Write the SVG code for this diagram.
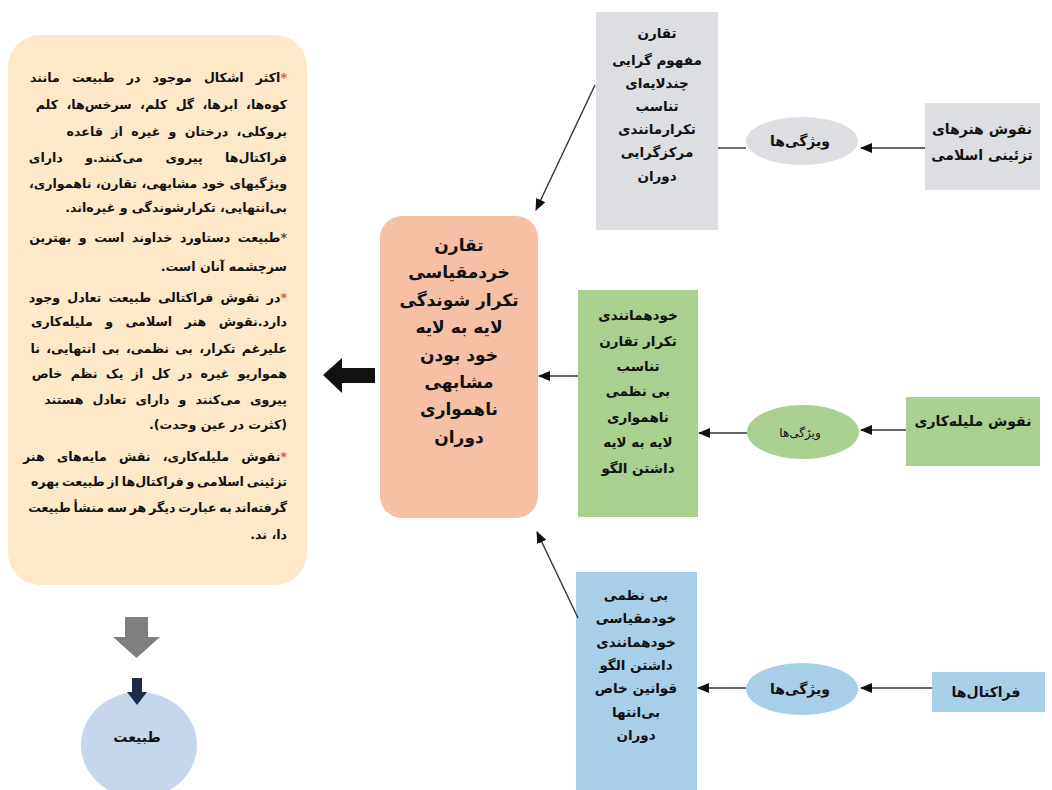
<svg xmlns="http://www.w3.org/2000/svg" width="1052" height="790" viewBox="0 0 1052 790">
<defs>
<style>
text { font-family: "DejaVu Sans", "Noto Sans", sans-serif; font-weight: bold; fill: #111; }
.p { font-size: 12.6px; }
.c { text-anchor: middle; }
.m { font-size: 17px; }
.s { font-size: 13.5px; }
.r { font-size: 14px; }
.star { fill: #e0563a; }
.conn { stroke: #333; stroke-width: 1.4; fill: none; }
</style>
<marker id="ah" markerUnits="userSpaceOnUse" markerWidth="12" markerHeight="10" refX="11" refY="5" orient="auto">
<path d="M0,0 L12,5 L0,10 z" fill="#111"/>
</marker>
</defs>
<rect width="1052" height="790" fill="#ffffff"/>

<g id="summary">
<rect x="8" y="35" width="299" height="550" rx="32" fill="#fde9c8"/>
<g direction="rtl" class="p">
<text x="287" y="82" word-spacing="7.8"><tspan class="star">*</tspan>اکثر اشکال موجود در طبیعت مانند</text>
<text x="287" y="109" word-spacing="4">کوه‌ها، ابرها، گل کلم، سرخس‌ها، کلم</text>
<text x="287" y="136" word-spacing="4">بروکلی، درختان و غیره از قاعده</text>
<text x="287" y="162" word-spacing="18">فراکتال‌ها پیروی می‌کنند.و دارای</text>
<text x="287" y="188">ویژگیهای خود مشابهی، تقارن، ناهمواری،</text>
<text x="287" y="212">بی‌انتهایی، تکرارشوندگی و غیره‌اند.</text>
<text x="287" y="242" word-spacing="3.2"><tspan fill="#555">*</tspan>طبیعت دستاورد خداوند است و بهترین</text>
<text x="287" y="271">سرچشمه آنان است.</text>
<text x="287" y="302" word-spacing="2.8"><tspan class="star">*</tspan>در نقوش فراکتالی طبیعت تعادل وجود</text>
<text x="287" y="326" word-spacing="8">دارد.نقوش هنر اسلامی و ملیله‌کاری</text>
<text x="287" y="353" word-spacing="2">علیرغم تکرار، بی نظمی، بی انتهایی، نا</text>
<text x="287" y="378" word-spacing="3.9">همواریو غیره در کل از یک نظم خاص</text>
<text x="287" y="404" word-spacing="4.7">پیروی می‌کنند و دارای تعادل هستند</text>
<text x="287" y="429">(کثرت در عین وحدت).</text>
<text x="287" y="461" word-spacing="7.8"><tspan class="star">*</tspan>نقوش ملیله‌کاری، نقش مایه‌های هنر</text>
<text x="287" y="486" word-spacing="-1.6">تزئینی اسلامی و فراکتال‌ها از طبیعت بهره</text>
<text x="287" y="512" word-spacing="-1.6">گرفته‌اند به عبارت دیگر هر سه منشأ طبیعت</text>
<text x="287" y="539">دا، ند.</text>
</g>
</g>

<g id="big-arrow">
<path d="M323,375 L342,358 L342,368 L375,368 L375,383 L342,383 L342,393 z" fill="#111"/>
</g>

<g id="gray-down-arrow">
<path d="M125,617 L148,617 L148,637 L160,637 L136.5,658 L113,637 L125,637 z" fill="#7f7f7f"/>
</g>

<g id="nature">
<ellipse cx="139" cy="745" rx="58" ry="53" fill="#c6d7eb"/>
<text class="c r" x="137" y="742" direction="rtl">طبیعت</text>
</g>

<g id="navy-down-arrow">
<path d="M132,678 L142,678 L142,692 L147,692 L137,705 L127,692 L132,692 z" fill="#1d2b45"/>
</g>

<g id="center">
<rect x="380" y="216" width="158" height="302" rx="22" fill="#f5c0a4"/>
<g class="c m" direction="rtl">
<text x="459" y="251">تقارن</text>
<text x="459" y="278">خردمقیاسی</text>
<text x="459" y="306">تکرار شوندگی</text>
<text x="459" y="333">لایه به لایه</text>
<text x="459" y="361">خود بودن</text>
<text x="459" y="388">مشابهی</text>
<text x="459" y="415">ناهمواری</text>
<text x="459" y="443">دوران</text>
</g>
</g>

<g id="islamic-features">
<rect x="596" y="12" width="122" height="218" fill="#dcdee2"/>
<g class="c s" direction="rtl">
<text x="657" y="38">تقارن</text>
<text x="657" y="65">مفهوم گرایی</text>
<text x="657" y="88">چندلایه‌ای</text>
<text x="657" y="111">تناسب</text>
<text x="657" y="134">تکرارمانندی</text>
<text x="657" y="157">مرکزگرایی</text>
<text x="657" y="181">دوران</text>
</g>
</g>

<g id="filigree-features">
<rect x="578" y="290" width="120" height="227" fill="#a9d08e"/>
<g class="c s" direction="rtl">
<text x="638" y="320">خودهمانندی</text>
<text x="638" y="346">تکرار تقارن</text>
<text x="638" y="371">تناسب</text>
<text x="638" y="396">بی نظمی</text>
<text x="638" y="422">ناهمواری</text>
<text x="638" y="447">لایه به لایه</text>
<text x="638" y="473">داشتن الگو</text>
</g>
</g>

<g id="fractal-features">
<rect x="576" y="572" width="121" height="218" fill="#a8cfe8"/>
<g class="c s" direction="rtl">
<text x="636" y="600">بی نظمی</text>
<text x="636" y="623">خودمقیاسی</text>
<text x="636" y="647">خودهمانندی</text>
<text x="636" y="670">داشتن الگو</text>
<text x="636" y="693">قوانین خاص</text>
<text x="636" y="717">بی‌انتها</text>
<text x="636" y="740">دوران</text>
</g>
</g>

<g id="ellipse-islamic">
<ellipse cx="802" cy="141" rx="56" ry="24" fill="#dcdee2"/>
<text class="c r" x="800" y="146" direction="rtl">ویژگی‌ها</text>
</g>
<g id="ellipse-filigree">
<ellipse cx="803" cy="432" rx="56" ry="27" fill="#a9d08e"/>
<text class="c" x="800" y="437" direction="rtl" style="font-size:12px;font-weight:normal">ویژگی‌ها</text>
</g>
<g id="ellipse-fractal">
<ellipse cx="802" cy="689" rx="56" ry="26" fill="#a8cfe8"/>
<text class="c r" x="800" y="694" direction="rtl">ویژگی‌ها</text>
</g>

<g id="islamic-art">
<rect x="925" y="103" width="115" height="87" fill="#dcdee2"/>
<g class="c r" direction="rtl">
<text x="982" y="134">نقوش هنرهای</text>
<text x="982" y="160">تزئینی اسلامی</text>
</g>
</g>
<g id="filigree">
<rect x="906" y="397" width="134" height="69" fill="#a9d08e"/>
<text class="c r" x="973" y="426" direction="rtl">نقوش ملیله‌کاری</text>
</g>
<g id="fractals">
<rect x="932" y="672" width="113" height="40" fill="#a8cfe8"/>
<text class="c r" x="986" y="697" direction="rtl">فراکتال‌ها</text>
</g>

<g id="connectors">
<line class="conn" x1="925" y1="148" x2="861" y2="148" marker-end="url(#ah)"/>
<line class="conn" x1="746" y1="148" x2="718" y2="148"/>
<line class="conn" x1="906" y1="430" x2="861" y2="430" marker-end="url(#ah)"/>
<line class="conn" x1="747" y1="433" x2="699" y2="433" marker-end="url(#ah)"/>
<line class="conn" x1="578" y1="376" x2="539" y2="376" marker-end="url(#ah)"/>
<line class="conn" x1="932" y1="688" x2="861" y2="688" marker-end="url(#ah)"/>
<line class="conn" x1="746" y1="688" x2="698" y2="688" marker-end="url(#ah)"/>
<line class="conn" x1="595" y1="85" x2="536" y2="210" marker-end="url(#ah)"/>
<line class="conn" x1="578" y1="618" x2="537" y2="532" marker-end="url(#ah)"/>
</g>
</svg>
